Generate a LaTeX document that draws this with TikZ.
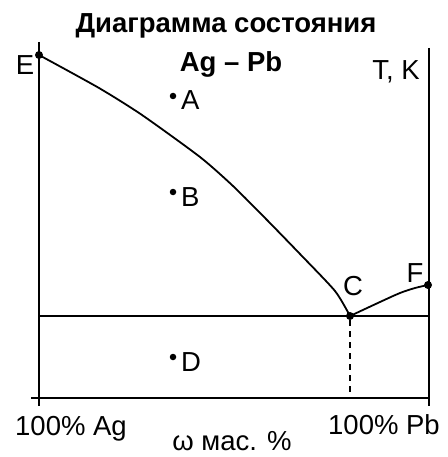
\documentclass[tikz,border=0pt]{standalone}
\usepackage{fontspec}
\setmainfont{Liberation Sans}
\begin{document}
\begin{tikzpicture}[x=1pt,y=-1pt,
  axis/.style={line width=1.5pt},
  curve/.style={line width=1.8pt},
  bigdot/.style={circle,fill,inner sep=0pt,minimum size=8pt},
  smalldot/.style={circle,fill,inner sep=0pt,minimum size=6.5pt},
  lbl/.style={font=\fontsize{27.5}{32}\selectfont,inner sep=0pt},
  ttl/.style={font=\fontsize{27.5}{32}\selectfont\bfseries,inner sep=0pt},
  dashln/.style={line width=2.4pt,dash pattern=on 6pt off 5pt}]
\useasboundingbox (0,0) rectangle (447,457);
% axes
\coordinate (Ltop) at (39,42);
\coordinate (Lbot) at (39,406);
\coordinate (Rtop) at (429,48);
\coordinate (Rbot) at (429,406);
\coordinate (Bl) at (31,398);
\coordinate (Br) at (429,398);
\coordinate (Hl) at (39,316);
\coordinate (Hr) at (429,316);
\coordinate (Cb) at (350,398);
\draw[axis] (Ltop) -- (Lbot);
\draw[axis] (Rtop) -- (Rbot);
\draw[axis] (Bl) -- (Br);
\draw[axis] (Hl) -- (Hr);
% points
\node[bigdot] (E) at (39,55) {};
\node[bigdot] (C) at (350,316) {};
\node[bigdot] (F) at (428,285) {};
\node[smalldot] (A) at (173,96) {};
\node[smalldot] (B) at (173,192) {};
\node[smalldot] (D) at (173,357) {};
% curves
\draw[curve] plot[smooth,tension=0.4] coordinates {(E.center) (99,88) (142,115) (200,157) (233,186) (267,220) (300,254) (335,291) (C.center)};
\draw[curve] plot[smooth,tension=0.5] coordinates {(C.center) (380,302) (400,293) (415,288) (F.center)};
\draw[dashln] (C) -- (Cb);
% labels
\node[ttl,anchor=base] (t1) at (226,33) {Диаграмма состояния};
\node[ttl,anchor=base] (t2) at (231,72) {Ag – Pb};
\node[lbl,anchor=base] (TK) at (396,80) {T, K};
\node[lbl,anchor=base] (lE) at (25,75) {E};
\node[lbl,anchor=base west] (lA) at (181,110) {A};
\node[lbl,anchor=base west] (lB) at (181,206) {B};
\node[lbl,anchor=base west] (lD) at (181,371) {D};
\node[lbl,anchor=base] (lC) at (353,295) {C};
\node[lbl,anchor=base] (lF) at (415,282) {F};
\node[lbl,anchor=base] (ag) at (71,435) {100\% Ag};
\node[lbl,anchor=base] (pb) at (384,434) {100\% Pb};
\node[lbl,anchor=base] (om) at (232,450) {ω мас. \%};
\end{tikzpicture}
\end{document}
